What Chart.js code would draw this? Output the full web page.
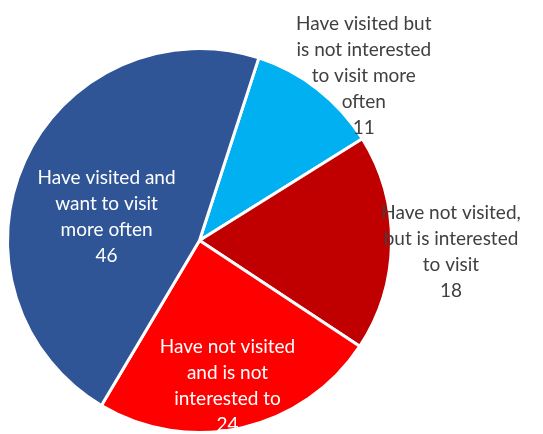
<!DOCTYPE html>
<html>
<head>
<meta charset="utf-8">
<script src="https://cdn.jsdelivr.net/npm/chart.js@4"></script>
<style>
    html, body { margin: 0; padding: 0; background: #fff; }
    #wrap { width: 543px; height: 434px; }
</style>
</head>
<body>
<div id="wrap"><canvas id="myChart" width="543" height="434"></canvas></div>
<script>
// DATA
const categories = [
    ['Have visited but', 'is not interested', 'to visit more', 'often'],
    ['Have not visited,', 'but is interested', 'to visit'],
    ['Have not visited', 'and is not', 'interested to'],
    ['Have visited and', 'want to visit', 'more often']
];
const answers = [11, 18, 24, 46];
// DATA

// LABEL STYLE (per slice)
const sliceColors = ['#00B0F0', '#C00000', '#FF0000', '#2F5597'];
const labelColors = ['#404040', '#404040', '#ffffff', '#ffffff'];
const labelDist   = [1.17, 1.31, 0.77, 0.52];
const labelShift  = [[26, 12], [0, 8], [-5, 1], [-2, 18]];
const LINE_H = 26;

// PLUGIN FOR SLICE LABELS
const sliceLabels = {
    id: 'sliceLabels',
    afterDatasetsDraw(chart) {
        const ctx = chart.ctx;
        const meta = chart.getDatasetMeta(0);
        ctx.save();
        ctx.font = '19px Lato, "Open Sans", sans-serif';
        ctx.textAlign = 'center';
        ctx.textBaseline = 'middle';
        meta.data.forEach(function(arc, i){
            const p = arc.getProps(['x', 'y', 'startAngle', 'endAngle', 'outerRadius'], true);
            const mid = (p.startAngle + p.endAngle) / 2;
            const d = p.outerRadius * labelDist[i];
            const lines = categories[i].concat([String(answers[i])]);
            const cx = p.x + Math.cos(mid) * d + labelShift[i][0];
            const cy = p.y + Math.sin(mid) * d + labelShift[i][1];
            const top = cy - (lines.length - 1) * LINE_H / 2;
            ctx.fillStyle = labelColors[i];
            lines.forEach(function(t, k){
                ctx.fillText(t, cx, top + k * LINE_H);
            });
        });
        ctx.restore();
    }
};

const ctx = document.getElementById('myChart').getContext('2d');
new Chart(ctx, {
    type: 'pie',
    data: {
        labels: categories.map(function(c){ return c.join(' '); }),
        datasets: [{
            data: answers,
            backgroundColor: sliceColors,
            borderColor: '#ffffff',
            borderWidth: 3
        }]
    },
    options: {
        responsive: false,
        animation: false,
        rotation: 18,
        layout: { padding: { left: 6, right: 150, top: 47, bottom: 0 } },
        plugins: {
            legend: { display: false },
            tooltip: { enabled: false }
        }
    },
    plugins: [sliceLabels]
});
</script>
</body>
</html>
